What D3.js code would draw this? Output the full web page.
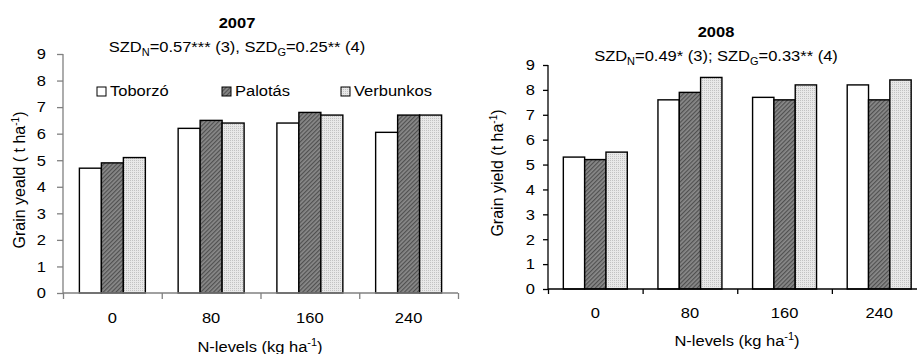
<!DOCTYPE html>
<html>
<head>
<meta charset="utf-8">
<script src="https://cdn.jsdelivr.net/npm/d3@7"></script>
<style>
	body { margin: 0; background: #fff; }
	svg { display: block; font-family: "Liberation Sans", Arial, sans-serif; }
</style>
</head>
<body>
<svg id="chart" width="917" height="354"></svg>
<script>
// categories and series
const nLevels = ['0', '80', '160', '240'];
const varieties = ['Toborzó', 'Palotás', 'Verbunkos'];
const yTicks = [0, 1, 2, 3, 4, 5, 6, 7, 8, 9];

const toborzo2007 = [4.7, 6.2, 6.4, 6.05];
const palotas2007 = [4.9, 6.5, 6.8, 6.7];
const verbunkos2007 = [5.1, 6.4, 6.7, 6.7];

const toborzo2008 = [5.3, 7.6, 7.7, 8.2];
const palotas2008 = [5.2, 7.9, 7.6, 7.6];
const verbunkos2008 = [5.5, 8.5, 8.2, 8.4];

// the original text is a little wider than Arial
const stretch = 1.1;
const fontSize = 15;

let svg = d3.select('#chart');

// fill patterns
let defs = svg.append('defs');
let dark = defs.append('pattern')
	.attr('id', 'darkFill')
	.attr('patternUnits', 'userSpaceOnUse')
	.attr('width', 3)
	.attr('height', 3)
	.attr('patternTransform', 'rotate(45)');
dark.append('rect').attr('width', 3).attr('height', 3).attr('fill', '#8a8a8a');
dark.append('rect').attr('width', 1.2).attr('height', 3).attr('fill', '#505050');

let light = defs.append('pattern')
	.attr('id', 'lightFill')
	.attr('patternUnits', 'userSpaceOnUse')
	.attr('width', 2)
	.attr('height', 2);
light.append('rect').attr('width', 2).attr('height', 2).attr('fill', '#e8e8e8');
light.append('rect').attr('width', 1).attr('height', 1).attr('fill', '#c2c2c2');

const fills = ['#fff', 'url(#darkFill)', 'url(#lightFill)'];

// text placed at (x, y), widened horizontally
function label(g, x, y) {
	return g.append('text')
		.attr('transform', `translate(${x}, ${y}) scale(${stretch}, 1)`)
		.attr('font-size', fontSize);
}

function withUnit(t, text) {
	t.append('tspan').text(text);
	t.append('tspan').attr('font-size', 10).attr('dy', -6).text('-1');
	t.append('tspan').attr('dy', 6).text(')');
}

function drawPanel(cfg) {
	let x = d3.scaleBand()
			.domain(nLevels)
			.range([cfg.x0, cfg.x1])
			.paddingInner(cfg.pad)
			.paddingOuter(cfg.pad / 2),
		xs = d3.scaleBand().domain(varieties).range([0, x.bandwidth()]),
		xb = d3.scaleLinear().domain([0, nLevels.length]).range([cfg.x0, cfg.x1]),
		y = d3.scaleLinear().domain([0, 9]).range([cfg.yBottom, cfg.yTop]);

	let g = svg.append('g');

	// bars
	cfg.series.forEach((vals, si) => {
		g.append('g')
			.selectAll('rect')
			.data(vals)
			.enter()
			.append('rect')
			.attr('x', (d, i) => x(nLevels[i]) + xs(varieties[si]))
			.attr('y', d => y(d))
			.attr('width', xs.bandwidth())
			.attr('height', d => y(0) - y(d))
			.attr('fill', fills[si])
			.attr('stroke', '#000')
			.attr('stroke-width', 1.4);
	});

	// y axis
	let ya = g.append('g')
		.attr('transform', `translate(${cfg.x0}, 0)`)
		.call(d3.axisLeft(y).tickValues(yTicks).tickSize(cfg.tick).tickPadding(cfg.ypad).tickFormat(d3.format('d')));

	// x axis: boundary ticks and centred labels
	let xa = g.append('g')
		.attr('transform', `translate(0, ${y(0)})`)
		.call(d3.axisBottom(xb).tickValues(d3.range(nLevels.length + 1)).tickSize(cfg.tick).tickFormat(''));
	g.append('g')
		.attr('transform', `translate(0, ${y(0)})`)
		.call(d3.axisBottom(x).tickSize(0).tickPadding(cfg.xpad))
		.call(s => s.select('.domain').remove());

	[ya, xa].forEach(a => {
		a.selectAll('.domain, line').attr('stroke', cfg.axisColor).attr('stroke-width', 1.3);
		a.select('.domain').attr('d', a === ya
			? `M0,${cfg.yBottom}V${cfg.yTop}`
			: `M${cfg.x0},0H${cfg.x1}`);
	});
	g.selectAll('.tick text')
		.attr('font-family', '"Liberation Sans", Arial, sans-serif')
		.attr('font-size', fontSize)
		.attr('transform', `scale(${stretch}, 1)`)
		.attr('fill', '#000');

	// titles
	label(g, cfg.titleX, cfg.titleY)
		.attr('text-anchor', 'middle')
		.attr('font-weight', 'bold')
		.text(cfg.title);

	let sub = label(g, cfg.titleX, cfg.subY).attr('text-anchor', 'middle');
	sub.append('tspan').text('SZD');
	sub.append('tspan').attr('font-size', 10).attr('dy', 4).text('N');
	sub.append('tspan').attr('dy', -4).text(cfg.szdN + ' SZD');
	sub.append('tspan').attr('font-size', 10).attr('dy', 4).text('G');
	sub.append('tspan').attr('dy', -4).text(cfg.szdG);

	// axis labels
	let yl = g.append('text')
		.attr('transform', `translate(${cfg.yLabelX}, ${cfg.yLabelY}) rotate(-90)`)
		.attr('text-anchor', 'middle')
		.attr('font-size', 16);
	withUnit(yl, cfg.yLabel);

	let xl = label(g, cfg.xLabelX, cfg.xLabelY).attr('text-anchor', 'middle');
	withUnit(xl, 'N-levels (kg ha');

	// legend
	if (cfg.legend) {
		let items = g.append('g')
			.selectAll('g')
			.data(varieties)
			.enter()
			.append('g')
			.attr('transform', (d, i) => `translate(${cfg.legend.xs[i]}, ${cfg.legend.y})`);
		items.append('rect')
			.attr('x', 0).attr('y', -8)
			.attr('width', 9).attr('height', 9)
			.attr('fill', (d, i) => fills[i])
			.attr('stroke', '#000')
			.attr('stroke-width', 1);
		items.append('text')
			.attr('transform', `translate(13, 1) scale(${stretch}, 1)`)
			.attr('font-size', fontSize)
			.text(d => d);
	}
}

drawPanel({
	series: [toborzo2007, palotas2007, verbunkos2007],
	x0: 63, x1: 458, pad: 0.332,
	yBottom: 293, yTop: 54,
	tick: 6, ypad: 9.5, xpad: 19,
	axisColor: '#808080',
	title: '2007', titleX: 237, titleY: 28, subY: 52,
	szdN: '=0.57*** (3),', szdG: '=0.25** (4)',
	yLabel: 'Grain yeald ( t ha', yLabelX: 25, yLabelY: 180,
	xLabelX: 260, xLabelY: 352,
	legend: { y: 95, xs: [97, 222, 341] }
});

drawPanel({
	series: [toborzo2008, palotas2008, verbunkos2008],
	x0: 548, x1: 926.5, pad: 0.324,
	yBottom: 289, yTop: 65,
	tick: 5, ypad: 6.8, xpad: 18,
	axisColor: '#000',
	title: '2008', titleX: 716, titleY: 37, subY: 61,
	szdN: '=0.49* (3);', szdG: '=0.33** (4)',
	yLabel: 'Grain yield (t ha', yLabelX: 503, yLabelY: 173,
	xLabelX: 737, xLabelY: 346,
	legend: null
});
</script>
</body>
</html>
